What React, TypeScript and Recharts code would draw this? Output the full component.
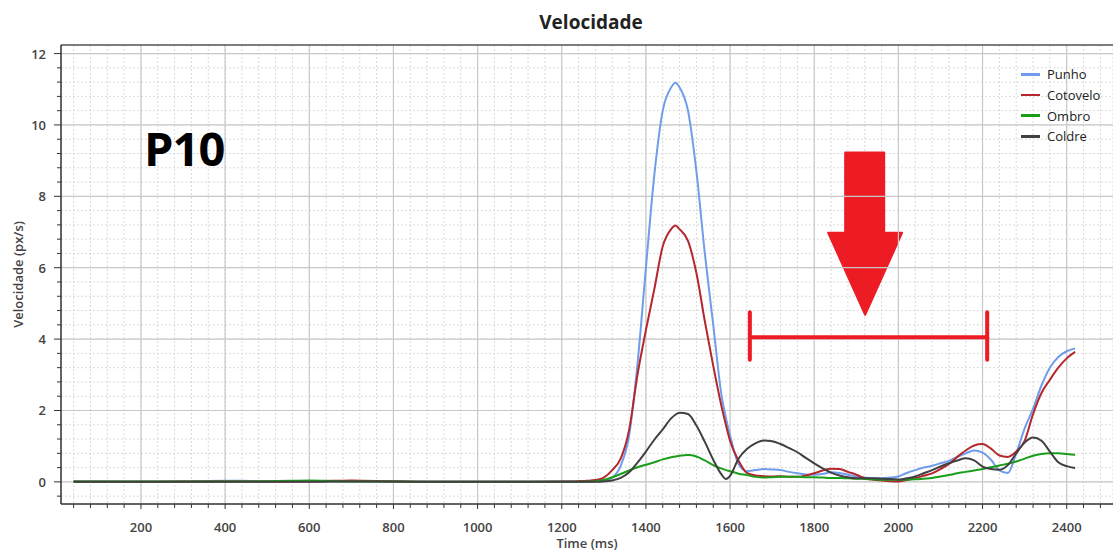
import React from 'react'
import {
  LineChart, Line, XAxis, YAxis, CartesianGrid, Legend, ReferenceLine, ReferenceArea,
} from 'recharts'

// time axis (ms) shared by all four series
const TIMES = [
  40, 100, 200, 300, 400, 440, 500, 560, 600, 660, 700, 800, 900, 1000, 1100, 1200,
  1240, 1260, 1280, 1300, 1320, 1340, 1360, 1380, 1400, 1420, 1440, 1460, 1470, 1480,
  1500, 1520, 1540, 1560, 1580, 1590, 1600, 1620, 1640, 1660, 1680, 1700, 1720, 1740,
  1760, 1780, 1800, 1820, 1840, 1860, 1880, 1900, 1920, 1940, 1960, 1980, 2000, 2020,
  2040, 2060, 2080, 2100, 2120, 2140, 2160, 2180, 2200, 2220, 2240, 2260, 2280, 2300,
  2320, 2340, 2360, 2380, 2400, 2420,
]

const PUNHO = [
  0.01, 0.01, 0.0, 0.01, 0.03, 0.03, 0.01, 0.01, 0.02, 0.01, 0.02, 0.01, 0.0, 0.0, 0.0, 0.01,
  0.01, 0.01, 0.02, 0.03, 0.12, 0.45, 1.3, 3.3, 6.0, 8.6, 10.4, 11.05, 11.18, 11.05,
  10.4, 8.7, 6.4, 4.4, 2.4, 1.8, 1.3, 0.5, 0.3, 0.33, 0.36, 0.35, 0.33, 0.28,
  0.24, 0.21, 0.2, 0.22, 0.27, 0.25, 0.2, 0.15, 0.12, 0.1, 0.1, 0.12, 0.15, 0.25,
  0.33, 0.4, 0.45, 0.52, 0.59, 0.7, 0.8, 0.88, 0.82, 0.62, 0.32, 0.25, 0.8, 1.5,
  2.05, 2.7, 3.2, 3.5, 3.66, 3.74,
]

const COTOVELO = [
  0.01, 0.0, 0.0, 0.01, 0.01, 0.01, 0.01, 0.01, 0.01, 0.03, 0.04, 0.01, 0.0, 0.0, 0.0, 0.01,
  0.02, 0.03, 0.05, 0.12, 0.33, 0.65, 1.45, 3.0, 4.25, 5.4, 6.6, 7.08, 7.18, 7.08,
  6.75, 5.85, 4.5, 3.25, 2.1, 1.6, 1.15, 0.6, 0.25, 0.18, 0.16, 0.15, 0.16, 0.14,
  0.14, 0.18, 0.24, 0.32, 0.37, 0.36, 0.28, 0.2, 0.1, 0.06, 0.04, 0.02, 0.01, 0.05,
  0.1, 0.17, 0.24, 0.36, 0.5, 0.7, 0.88, 1.02, 1.06, 0.93, 0.74, 0.7, 0.85, 1.15,
  1.9, 2.49, 2.86, 3.2, 3.46, 3.64,
]

const OMBRO = [
  0.01, 0.01, 0.01, 0.01, 0.01, 0.01, 0.02, 0.03, 0.04, 0.02, 0.01, 0.01, 0.0, 0.0, 0.0, 0.0,
  0.0, 0.01, 0.02, 0.05, 0.13, 0.22, 0.32, 0.41, 0.48, 0.55, 0.63, 0.69, 0.71, 0.73,
  0.75, 0.71, 0.6, 0.47, 0.37, 0.33, 0.3, 0.23, 0.19, 0.14, 0.12, 0.13, 0.14, 0.14,
  0.14, 0.13, 0.13, 0.12, 0.11, 0.11, 0.1, 0.09, 0.08, 0.07, 0.06, 0.06, 0.06, 0.06,
  0.07, 0.09, 0.11, 0.15, 0.19, 0.24, 0.28, 0.32, 0.36, 0.41, 0.46, 0.51, 0.57, 0.65,
  0.73, 0.78, 0.8, 0.8, 0.78, 0.76,
]

const COLDRE = [
  0.0, 0.0, 0.0, 0.0, 0.0, 0.0, 0.0, 0.0, 0.0, 0.01, 0.01, 0.01, 0.0, 0.0, 0.0, 0.0,
  0.0, 0.0, 0.0, 0.01, 0.04, 0.11, 0.27, 0.54, 0.85, 1.18, 1.47, 1.78, 1.88, 1.94,
  1.9, 1.58, 1.12, 0.62, 0.2, 0.08, 0.17, 0.65, 0.92, 1.08, 1.16, 1.14, 1.06, 0.95,
  0.83, 0.67, 0.52, 0.38, 0.26, 0.18, 0.13, 0.1, 0.1, 0.1, 0.09, 0.08, 0.06, 0.1,
  0.15, 0.24, 0.33, 0.43, 0.52, 0.6, 0.66, 0.6, 0.43, 0.36, 0.34, 0.47, 0.8, 1.1,
  1.24, 1.15, 0.85, 0.55, 0.44, 0.39,
]

const X_DOMAIN = [10, 2510]
const Y_DOMAIN = [-0.62, 12.24]
const X_MAJOR = [200, 400, 600, 800, 1000, 1200, 1400, 1600, 1800, 2000, 2200, 2400]
const Y_MAJOR = [0, 2, 4, 6, 8, 10, 12]
const X_TICKS = Array.from({ length: 62 }, (_, i) => 40 + i * 40)
const Y_TICKS = Array.from({ length: 32 }, (_, i) => Math.round((-0.4 + i * 0.4) * 10) / 10)

// annotation drawn on the chart (data units)
const BRACKET = { x1: 1647, x2: 2211, y: 4.05, lo: 3.42, hi: 4.75 }
const ARROW = { x1: 1833, x2: 2009, y1: 4.68, y2: 9.23 }

const RED = '#ed1c24'
const FONT = '"Open Sans", sans-serif'

const SERIES = [
  { key: 'punho', name: 'Punho', color: '#6f9deb' },
  { key: 'cotovelo', name: 'Cotovelo', color: '#b3272d' },
  { key: 'ombro', name: 'Ombro', color: '#1a9e1a' },
  { key: 'coldre', name: 'Coldre', color: '#404040' },
]

const data = TIMES.map((t, i) => ({
  t, punho: PUNHO[i], cotovelo: COTOVELO[i], ombro: OMBRO[i], coldre: COLDRE[i],
}))

const XTick = ({ x, y, payload }: any) => {
  const major = payload.value % 200 === 0
  return (
    <g>
      <line x1={x} x2={x} y1={y} y2={y + (major ? 5 : 4)} stroke="#333" />
      {major && (
        <text x={x} y={y + 28} textAnchor="middle" fill="#444" fontSize={13} fontWeight={600} fontFamily={FONT}>
          {payload.value}
        </text>
      )}
    </g>
  )
}

const YTick = ({ x, y, payload }: any) => {
  const v = payload.value
  const major = Math.abs(v - Math.round(v)) < 1e-6 && Math.round(v) % 2 === 0
  return (
    <g>
      <line x1={x - (major ? 7 : 4)} x2={x} y1={y} y2={y} stroke="#333" />
      {major && (
        <text x={x - 15} y={y + 5} textAnchor="end" fill="#444" fontSize={13} fontWeight={600} fontFamily={FONT}>
          {v}
        </text>
      )}
    </g>
  )
}

const LegendBox = () => (
  <div style={{ fontFamily: FONT, fontSize: 13, color: '#222' }}>
    {SERIES.map(s => (
      <div key={s.key} style={{ display: 'flex', alignItems: 'center', height: 20.7 }}>
        <span style={{ display: 'inline-block', width: 19, height: 2.5, background: s.color, marginRight: 7 }} />
        {s.name}
      </div>
    ))}
  </div>
)

const ArrowShape = ({ x, y, width, height }: any) => {
  const pts = [[0.23, 0], [0.757, 0], [0.757, 0.494], [1, 0.494], [0.5, 1], [0, 0.494], [0.23, 0.494]]
    .map(([a, b]) => `${x + a * width},${y + b * height}`).join(' ')
  return <polygon points={pts} fill={RED} stroke={RED} strokeWidth={2} strokeLinejoin="round" />
}

export default function App() {
  return (
    <div style={{ position: 'absolute', left: 0, top: 0, width: 1113, height: 552, background: '#fff', fontFamily: FONT }}>
      <div style={{ position: 'absolute', top: 9, left: 0, width: 1182, textAlign: 'center', fontSize: 19, fontWeight: 700, color: '#222' }}>
        Velocidade
      </div>
      <LineChart width={1113} height={552} data={data} margin={{ top: 45, right: 0, bottom: 0, left: 0 }}>
        <CartesianGrid stroke="#dadada" strokeDasharray="2 2" />
        {X_MAJOR.map(v => <ReferenceLine key={'gx' + v} x={v} stroke="#c8c8c8" strokeWidth={1.2} />)}
        {Y_MAJOR.map(v => <ReferenceLine key={'gy' + v} y={v} stroke="#c8c8c8" strokeWidth={1.2} />)}
        <ReferenceLine y={Y_DOMAIN[1]} stroke="#555" strokeWidth={1.5} />
        <XAxis
          type="number" dataKey="t" domain={X_DOMAIN} ticks={X_TICKS} allowDataOverflow
          height={48} tickSize={0} tickMargin={0} tick={<XTick />} interval={0}
          axisLine={{ stroke: '#333', strokeWidth: 1.5 }}
          label={{ value: 'Time (ms)', position: 'insideBottom', offset: 4, fill: '#444', fontSize: 13, fontWeight: 600, fontFamily: FONT }}
        />
        <YAxis
          type="number" domain={Y_DOMAIN} ticks={Y_TICKS} allowDataOverflow
          width={61} tickSize={0} tickMargin={0} tick={<YTick />} interval={0}
          axisLine={{ stroke: '#333', strokeWidth: 1.5 }}
          label={{ value: 'Velocidade (px/s)', angle: -90, position: 'insideLeft', offset: 18, fill: '#444', fontSize: 13, fontWeight: 600, fontFamily: FONT, style: { textAnchor: 'middle' } }}
        />
        <Legend layout="vertical" align="center" verticalAlign="middle" content={<LegendBox />}
          wrapperStyle={{ position: 'absolute', top: 64, left: 1021, width: 90, height: 84 }} />
        {SERIES.map(s => (
          <Line key={s.key} type="monotone" dataKey={s.key} name={s.name} stroke={s.color}
            strokeWidth={2} dot={false} activeDot={false} isAnimationActive={false} />
        ))}
        <ReferenceLine segment={[{ x: BRACKET.x1, y: BRACKET.y }, { x: BRACKET.x2, y: BRACKET.y }]} stroke={RED} strokeWidth={4} strokeLinecap="round" />
        <ReferenceLine segment={[{ x: BRACKET.x1, y: BRACKET.lo }, { x: BRACKET.x1, y: BRACKET.hi }]} stroke={RED} strokeWidth={4} strokeLinecap="round" />
        <ReferenceLine segment={[{ x: BRACKET.x2, y: BRACKET.lo }, { x: BRACKET.x2, y: BRACKET.hi }]} stroke={RED} strokeWidth={4} strokeLinecap="round" />
        <ReferenceArea x1={ARROW.x1} x2={ARROW.x2} y1={ARROW.y1} y2={ARROW.y2} shape={<ArrowShape />} />
      </LineChart>
      <div style={{ position: 'absolute', left: 144, top: 116, fontSize: 47, fontWeight: 700, color: '#000', letterSpacing: -1 }}>
        P10
      </div>
    </div>
  )
}
